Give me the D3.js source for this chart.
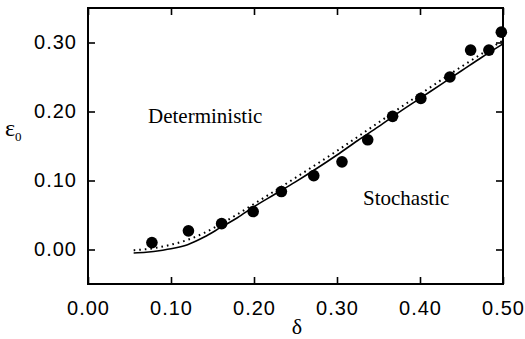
<!DOCTYPE html>
<html>
<head>
<meta charset="utf-8">
<script src="https://cdn.jsdelivr.net/npm/d3@7"></script>
<style>
  body { margin: 0; background: #fff; }
  svg { display: block; }
  .tick text { font-family: "Liberation Sans", Arial, sans-serif; font-size: 20px; fill: #000; letter-spacing: 1px; }
  .lbl { font-family: "Liberation Serif", "Times New Roman", serif; fill: #000; }
</style>
</head>
<body>
<div id="chart"></div>
<script>
// measured points (delta, eps0)
const pointX = [0.077, 0.121, 0.161, 0.199, 0.233, 0.272, 0.306, 0.337, 0.367, 0.401, 0.436, 0.461, 0.483, 0.498];
const pointY = [0.010, 0.027, 0.0375, 0.055, 0.084, 0.107, 0.127, 0.159, 0.193, 0.219, 0.250, 0.289, 0.289, 0.315];

// solid curve
const solidX = [0.055, 0.07, 0.09, 0.10, 0.12, 0.14, 0.16, 0.18, 0.20, 0.225, 0.25, 0.275, 0.30, 0.325, 0.35, 0.375, 0.40, 0.425, 0.45, 0.475, 0.50];
const solidY = [-0.005, -0.004, -0.001, 0.001, 0.007, 0.018, 0.032, 0.046, 0.062, 0.080, 0.098, 0.117, 0.137, 0.158, 0.178, 0.199, 0.219, 0.239, 0.259, 0.279, 0.298];

// dotted curve
const dotX = [0.055, 0.08, 0.10, 0.12, 0.14, 0.16, 0.18, 0.20, 0.25, 0.30, 0.35, 0.40, 0.45, 0.50];
const dotY = [-0.001, 0.002, 0.007, 0.014, 0.024, 0.037, 0.051, 0.066, 0.104, 0.143, 0.184, 0.225, 0.265, 0.303];

const xTicks = [0, 0.1, 0.2, 0.3, 0.4, 0.5];
const yTicks = [0, 0.1, 0.2, 0.3];

const W = 525, H = 339;
const margin = {left: 88, right: 22, top: 8, bottom: 55};

const svg = d3.select("#chart").append("svg").attr("width", W).attr("height", H);

const x = d3.scaleLinear().domain([0, 0.5]).range([margin.left, W - margin.right]);
const y = d3.scaleLinear().domain([-0.05, 0.35]).range([H - margin.bottom, margin.top]);

const fmt = d3.format(".2f");

// axes, ticks inward on all sides
svg.append("g").attr("transform", `translate(0,${y(-0.05)})`)
  .call(d3.axisBottom(x).tickValues(xTicks).tickFormat(fmt).tickSize(-7).tickPadding(17));
svg.append("g").attr("transform", `translate(0,${y(0.35)})`)
  .call(d3.axisTop(x).tickValues(xTicks).tickFormat("").tickSize(-7));
svg.append("g").attr("transform", `translate(${x(0)},0)`)
  .call(d3.axisLeft(y).tickValues(yTicks).tickFormat(fmt).tickSize(-7).tickPadding(11));
svg.append("g").attr("transform", `translate(${x(0.5)},0)`)
  .call(d3.axisRight(y).tickValues(yTicks).tickFormat("").tickSize(-7));

svg.selectAll(".domain").remove();
svg.selectAll(".tick line").attr("stroke", "#000").attr("stroke-width", 1.6);

svg.append("rect")
  .attr("x", x(0)).attr("y", y(0.35))
  .attr("width", x(0.5) - x(0)).attr("height", y(-0.05) - y(0.35))
  .attr("fill", "none").attr("stroke", "#000").attr("stroke-width", 2);

const line = d3.line().x(d => x(d[0])).y(d => y(d[1])).curve(d3.curveMonotoneX);

svg.append("path")
  .datum(dotX.map((v, i) => [v, dotY[i]]))
  .attr("d", line).attr("fill", "none").attr("stroke", "#000")
  .attr("stroke-width", 2).attr("stroke-dasharray", "1.6,4");

svg.append("path")
  .datum(solidX.map((v, i) => [v, solidY[i]]))
  .attr("d", line).attr("fill", "none").attr("stroke", "#000")
  .attr("stroke-width", 1.6);

svg.append("g").selectAll("circle")
  .data(pointX.map((v, i) => [v, pointY[i]]))
  .join("circle")
  .attr("cx", d => x(d[0])).attr("cy", d => y(d[1]))
  .attr("r", 5.8).attr("fill", "#000");

// labels
svg.append("text").attr("class", "lbl").attr("x", 148).attr("y", 123)
  .attr("font-size", 21).text("Deterministic");
svg.append("text").attr("class", "lbl").attr("x", 363).attr("y", 205)
  .attr("font-size", 21).text("Stochastic");

svg.append("text").attr("class", "lbl").attr("x", 297).attr("y", 334)
  .attr("text-anchor", "middle").attr("font-size", 22).text("δ");

const yl = svg.append("text").attr("class", "lbl").attr("x", 5).attr("y", 136).attr("font-size", 24);
yl.append("tspan").text("ε");
yl.append("tspan").attr("font-size", 13).attr("dy", 5).text("0");
</script>
</body>
</html>
